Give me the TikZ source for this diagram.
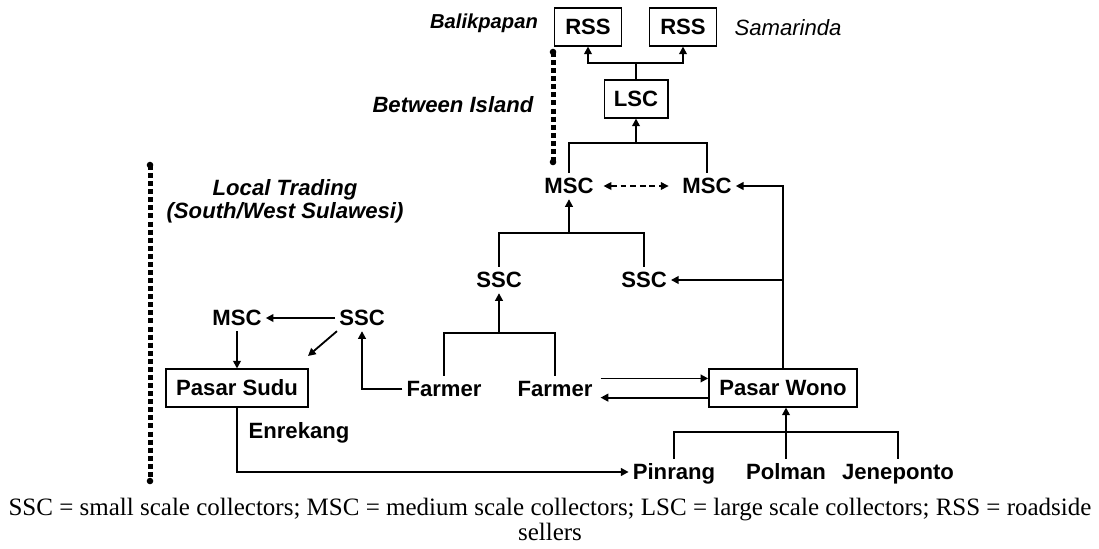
\documentclass[tikz,border=0pt]{standalone}
\usepackage{fontspec}
\setmainfont{Liberation Serif}
\setsansfont{Liberation Sans}
\usetikzlibrary{arrows.meta, positioning, calc}

\begin{document}
\begin{tikzpicture}[
  x=0.52pt, y=-0.52pt,
  actor/.style={font=\sffamily\bfseries\fontsize{11.5}{13}\selectfont, inner sep=2pt, text height=8.3pt, text depth=1pt},
  mbox/.style={actor, draw, line width=0.8pt, minimum height=19.5pt, inner xsep=5pt},
  place/.style={font=\sffamily\bfseries\itshape\fontsize{11.5}{13}\selectfont, inner sep=1pt},
  flow/.style={line width=0.95pt, -{Triangle[length=4pt,width=4pt]}},
  link/.style={line width=0.95pt},
  region/.style={line width=2.6pt, dash pattern=on 2.6pt off 1.6pt}
]
  \useasboundingbox (0,0) rectangle (1099,548);

  % markets and collectors
  \node[mbox, minimum width=35pt] (rss1) at (588,27) {RSS};
  \node[mbox, minimum width=35pt] (rss2) at (683,27) {RSS};
  \node[mbox, minimum width=33pt] (lsc) at (636,99) {LSC};
  \node[actor] (msc1) at (569,186) {MSC};
  \node[actor] (msc2) at (707,186) {MSC};
  \node[actor] (ssc1) at (499,280) {SSC};
  \node[actor] (ssc2) at (644,280) {SSC};
  \node[actor] (msc3) at (237,318) {MSC};
  \node[actor] (ssc3) at (362,318) {SSC};
  \node[mbox, minimum width=74pt] (sudu) at (237,388) {Pasar Sudu};
  \node[actor] (farm1) at (444,389) {Farmer};
  \node[actor] (farm2) at (555,389) {Farmer};
  \node[mbox, minimum width=77pt] (wono) at (783,388) {Pasar Wono};
  \node[actor] (pinrang) at (674,472) {Pinrang};
  \node[actor] (polman) at (786,472) {Polman};
  \node[actor] (jene) at (898,472) {Jeneponto};
  \node[actor] (enre) at (299,431) {Enrekang};

  % place names
  \node[place, font=\sffamily\bfseries\itshape\fontsize{10.5}{12}\selectfont] (balik) at (484,23) {Balikpapan};
  \node[place, font=\sffamily\itshape\fontsize{11.5}{13}\selectfont] (samar) at (788,28) {Samarinda};
  \node[place] (island) at (453,105) {Between Island};
  \node[place, align=center, font=\sffamily\bfseries\itshape\fontsize{11.5}{12}\selectfont] (local) at (285,201) {Local Trading\\(South/West Sulawesi)};

  % trading regions
  \draw[region] (553,52) -- (553,162);
  \fill (553,52) circle (1.7pt) (553,162) circle (1.7pt);
  \draw[region] (150,165) -- (150,481);
  \fill (150,165) circle (1.7pt) (150,481) circle (1.7pt);

  % flows
  \coordinate (jl) at (636,63);
  \draw[link] (lsc.north) -- (jl);
  \draw[flow] (jl) -| (rss1.south);
  \draw[flow] (jl) -| (rss2.south);

  \coordinate (jm) at (636,143);
  \draw[link] (msc1.north) |- (jm) -| (msc2.north);
  \draw[flow] (jm) -- (lsc.south);
  \draw[link, densely dashed, line width=0.6pt, {Triangle[length=4pt,width=4pt]}-{Triangle[length=4pt,width=4pt]}, shorten <=3pt, shorten >=5pt] (msc1.east) -- (msc2.west);

  \coordinate (js) at (569,233);
  \draw[link] (ssc1.north) |- (js) -| (ssc2.north);
  \draw[flow] (js) -- (msc1.south);

  \coordinate (jf) at (499,333);
  \draw[link] (farm1.north) |- (jf) -| (farm2.north);
  \draw[flow] (jf) -- (ssc1.south);

  \draw[flow] (wono.north) |- (msc2.east);
  \draw[flow] (wono.north |- ssc2.east) -- (ssc2.east);

  \draw[flow] (farm1.west) -| (ssc3.south);
  \draw[flow] (ssc3.west) -- (msc3.east);
  \coordinate (sd) at (308,356);
  \draw[flow] ([xshift=1pt]ssc3.south west) -- (sd);
  \draw[flow] (msc3.south) -- (sudu.north);

  \draw[flow, shorten <=2pt] ([yshift=5.5pt]farm2.east) -- ([yshift=5.5pt]farm2.east -| wono.west);
  \draw[flow, shorten >=2pt] ([yshift=-5pt]wono.west) -- ([yshift=-5pt]wono.west -| farm2.east);

  \draw[flow] (sudu.south) |- (pinrang.west);
  \coordinate (jp) at (786,432);
  \draw[link] (pinrang.north) |- (jp) -| (jene.north);
  \draw[flow] (polman.north) -- (polman.north |- wono.south);

  % legend
  \node[align=center, font=\fontsize{13}{13}\selectfont] (legend) at (550,519)
    {SSC = small scale collectors; MSC = medium scale collectors; LSC = large scale collectors; RSS = roadside\\sellers};
\end{tikzpicture}
\end{document}
